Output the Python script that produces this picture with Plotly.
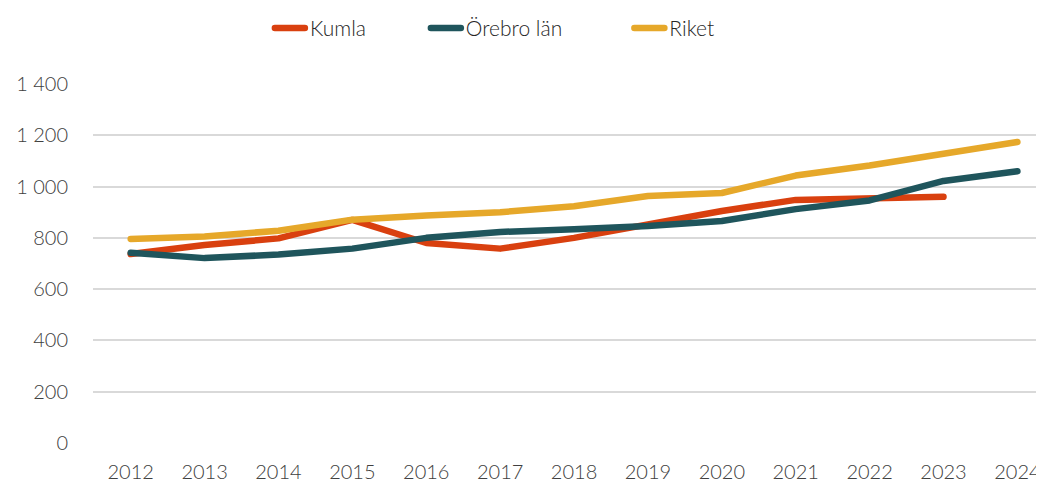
import plotly.graph_objects as go

years = [2012, 2013, 2014, 2015, 2016, 2017, 2018, 2019, 2020, 2021, 2022, 2023, 2024]
kumla = [737, 772, 798, 870, 780, 758, 800, 852, 905, 948, 955, 960, None]
orebro = [742, 721, 735, 758, 800, 823, 834, 846, 866, 912, 946, 1022, 1060]
riket = [796, 805, 828, 871, 887, 900, 923, 963, 975, 1043, 1082, 1128, 1174]
y_ticks = [0, 200, 400, 600, 800, 1000, 1200, 1400]

series = [("Kumla", kumla, "#D9400F"), ("Örebro län", orebro, "#1F555C"), ("Riket", riket, "#E6A82A")]
legend_ids = ["legend", "legend2", "legend3"]
legend_x = [0.186, 0.350, 0.564]

font_family = "Lato, 'Open Sans', sans-serif"

fig = go.Figure()
for (name, vals, col), lid in zip(series, legend_ids):
    fig.add_trace(go.Scatter(x=years, y=vals, name=name, mode="lines", legend=lid,
                             line=dict(color=col, width=6.5), connectgaps=False))

leg_common = dict(orientation="h", xanchor="left", y=1.155, yanchor="middle",
                  font=dict(size=21, color="#262626", weight=300), itemwidth=30,
                  bgcolor="rgba(0,0,0,0)")

fig.update_layout(
    width=1036, height=476,
    paper_bgcolor="white", plot_bgcolor="white",
    margin=dict(l=85, r=0, t=76, b=41, autoexpand=False),
    separators=", ",
    font=dict(family=font_family, size=20, color="#404040", weight=300),
    showlegend=True,
    legend=dict(x=legend_x[0], **leg_common),
    legend2=dict(x=legend_x[1], **leg_common),
    legend3=dict(x=legend_x[2], **leg_common),
    xaxis=dict(range=[2011.49, 2024.36], tickmode="array", tickvals=years,
               ticktext=[str(y) for y in years], showgrid=False, zeroline=False,
               showline=False, ticks="outside", ticklen=11, tickcolor="white",
               automargin=False, tickfont=dict(size=20, color="#404040", weight=300)),
    yaxis=dict(range=[0, 1400], tickmode="array", tickvals=y_ticks,
               tickformat=",d", showgrid=True, gridcolor="#D9D9D9", gridwidth=2,
               zeroline=False, showline=False, ticks="outside", ticklen=20,
               tickcolor="white", automargin=False,
               tickfont=dict(size=20, color="#404040", weight=300)),
)

round_caps = """
var gd = document.getElementsByClassName('plotly-graph-div')[0];
function rc(){ gd.querySelectorAll('path.js-line').forEach(function(p){
  p.style.strokeLinecap='round'; p.style.strokeLinejoin='round';}); }
rc(); gd.on('plotly_afterplot', rc);
"""
fig.write_html("out.html", post_script=round_caps)
